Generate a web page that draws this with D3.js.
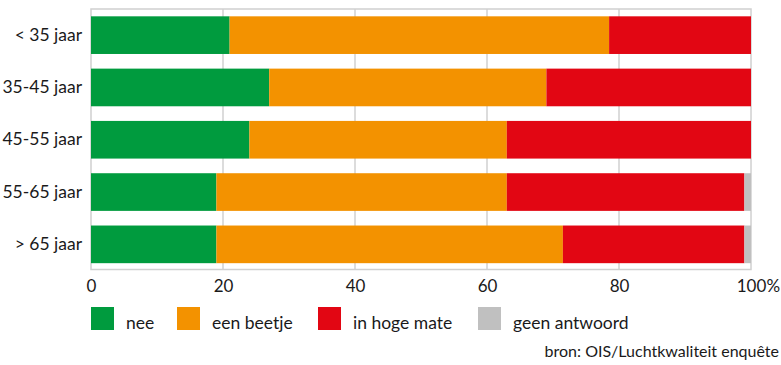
<!DOCTYPE html>
<html><head><meta charset="utf-8">
<script src="https://cdn.jsdelivr.net/npm/d3@7"></script>
<style>
body{margin:0;background:#fff;}
text{font-family:Lato,"Open Sans",sans-serif;fill:#1a1a1a;}
</style></head>
<body><svg id="c" width="781" height="365"></svg>
<script>
const categories = ["< 35 jaar","35-45 jaar","45-55 jaar","55-65 jaar","> 65 jaar"];
const seriesNames = ["nee","een beetje","in hoge mate","geen antwoord"];
const nee = [21, 27, 24, 19, 19];
const eenBeetje = [57.5, 42, 39, 44, 52.5];
const inHogeMate = [21.5, 31, 37, 36, 27.5];
const geenAntwoord = [0, 0, 0, 1, 1];
const colors = ["#009b3e","#f39200","#e20613","#c0c0c0"];
const xTicks = [0,20,40,60,80,100];
const source = "bron: OIS/Luchtkwaliteit enquête";

const seriesVals = [nee, eenBeetje, inHogeMate, geenAntwoord];
const rows = categories.map((c,i)=>{const o={cat:c}; seriesNames.forEach((s,j)=>o[s]=seriesVals[j][i]); return o;});
const stack = d3.stack().keys(seriesNames)(rows);

const svg = d3.select("#c");
const L=91, R=751, T=9, B=269.5;
const x = d3.scaleLinear().domain([0,100]).range([L,R]);
const y = d3.scaleBand().domain(categories).range([T,B+1]).paddingInner(0.28).paddingOuter(0.14);

// gridlines
svg.append("g").selectAll("line").data(xTicks.slice(1,-1)).join("line")
  .attr("x1",d=>x(d)).attr("x2",d=>x(d)).attr("y1",T).attr("y2",B)
  .attr("stroke","#d0d0d0").attr("stroke-width",1.5);
// frame
svg.append("rect").attr("x",L).attr("y",T).attr("width",R-L).attr("height",B-T)
  .attr("fill","none").attr("stroke","#d0d0d0").attr("stroke-width",1.5);

// bars
svg.append("g").selectAll("g").data(stack).join("g").attr("fill",(d,i)=>colors[i])
  .selectAll("rect").data(d=>d).join("rect")
  .attr("x",d=>x(d[0])).attr("width",d=>x(d[1])-x(d[0]))
  .attr("y",d=>y(d.data.cat)).attr("height",y.bandwidth());

// y axis labels
const ya = svg.append("g").attr("transform",`translate(${L},0)`)
  .call(d3.axisLeft(y).tickSize(0).tickPadding(9));
ya.select(".domain").remove();
ya.selectAll("text").style("font-size","17.5px").attr("font-family",null).style("fill","#1a1a1a");

// x axis
const xa = svg.append("g").attr("transform",`translate(0,${B})`)
  .call(d3.axisBottom(x).tickValues(xTicks).tickSize(0).tickPadding(10).tickFormat(d=>d));
xa.select(".domain").remove();
xa.selectAll("text").style("font-size","17px").attr("font-family",null).style("fill","#1a1a1a");
xa.selectAll(".tick").filter(d=>d===100).append("text")
  .attr("x",15).attr("y",10).attr("dy","0.71em").style("font-size","17px")
  .attr("text-anchor","start").style("fill","#1a1a1a").text("%");

// legend
const legX = [91,177,318,478];
const lg = svg.append("g").selectAll("g").data(seriesNames).join("g")
  .attr("transform",(d,i)=>`translate(${legX[i]},307)`);
lg.append("rect").attr("width",23).attr("height",23).attr("fill",(d,i)=>colors[i]);
lg.append("text").attr("x",35).attr("y",22).style("font-size","17.5px").text(d=>d);

svg.append("text").attr("x",779).attr("y",357).attr("text-anchor","end")
  .style("font-size","16px").text(source);
</script></body></html>
